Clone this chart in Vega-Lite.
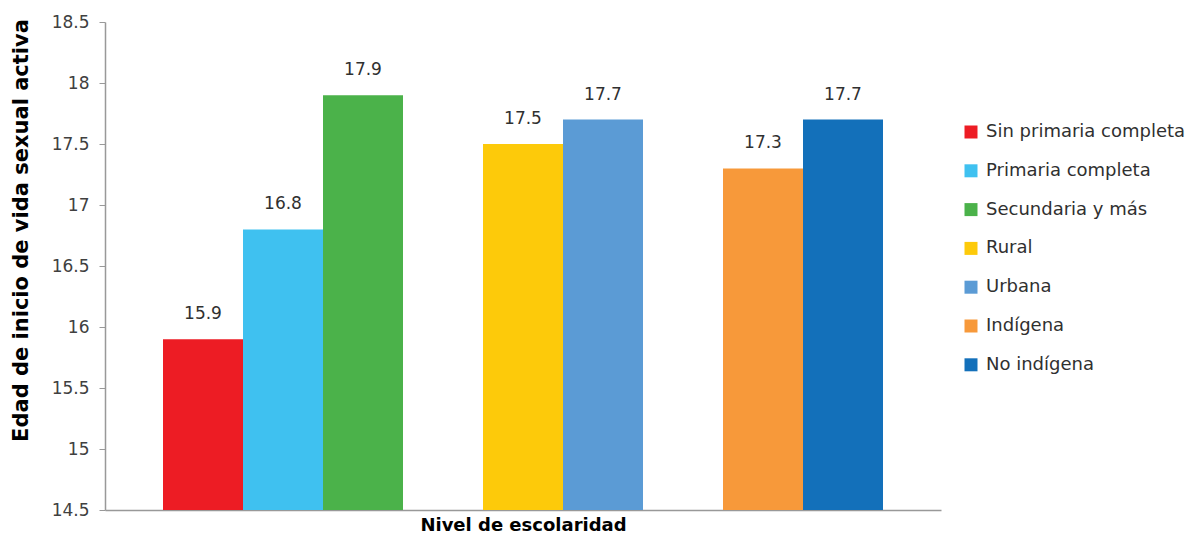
{
  "$schema": "https://vega.github.io/schema/vega-lite/v6.json",
  "width": 836,
  "height": 488,
  "autosize": {"type": "none"},
  "padding": {"left": 105, "top": 22, "right": 263, "bottom": 28},
  "background": "white",
  "config": {
    "view": {"stroke": null},
    "font": "DejaVu Sans"
  },
  "data": {
    "values": [
      {"categoria": "Sin primaria completa", "edad": 15.9},
      {"categoria": "Primaria completa", "edad": 16.8},
      {"categoria": "Secundaria y más", "edad": 17.9},
      {"categoria": "Rural", "edad": 17.5},
      {"categoria": "Urbana", "edad": 17.7},
      {"categoria": "Indígena", "edad": 17.3},
      {"categoria": "No indígena", "edad": 17.7}
    ]
  },
  "encoding": {
    "x": {
      "field": "categoria",
      "type": "nominal",
      "scale": {
        "domain": ["Sin primaria completa", "Primaria completa", "Secundaria y más", "_g1", "Rural", "Urbana", "_g2", "Indígena", "No indígena"],
        "paddingInner": 0,
        "paddingOuter": 0.725
      },
      "axis": {
        "title": "Nivel de escolaridad",
        "titleFontSize": 18,
        "titleFontWeight": "bold",
        "titleColor": "#000000",
        "titlePadding": 6,
        "labels": false,
        "ticks": false,
        "domainColor": "#999999",
        "domainWidth": 1.5
      }
    },
    "y": {
      "field": "edad",
      "type": "quantitative",
      "scale": {"domain": [14.5, 18.5], "zero": false, "nice": false},
      "axis": {
        "title": "Edad de inicio de vida sexual activa",
        "titleFontSize": 21,
        "titleFontWeight": "bold",
        "titleColor": "#000000",
        "titlePadding": 20,
        "titleY": 208,
        "values": [14.5, 15, 15.5, 16, 16.5, 17, 17.5, 18, 18.5],
        "format": ".1~f",
        "labelFontSize": 17,
        "labelColor": "#404040",
        "labelPadding": 10,
        "tickSize": 6,
        "tickColor": "#999999",
        "domainColor": "#999999",
        "domainWidth": 1.5,
        "grid": false
      }
    }
  },
  "layer": [
    {
      "mark": {"type": "bar"},
      "encoding": {
        "y2": {"datum": 14.5},
        "color": {
          "field": "categoria",
          "type": "nominal",
          "scale": {
            "domain": ["Sin primaria completa", "Primaria completa", "Secundaria y más", "Rural", "Urbana", "Indígena", "No indígena"],
            "range": ["#ED1C24", "#3FC1F0", "#4BB24A", "#FDCA0A", "#5B9BD5", "#F7993A", "#1370BA"]
          },
          "legend": {
            "title": null,
            "orient": "none",
            "legendX": 857,
            "legendY": 101,
            "symbolType": "square",
            "symbolSize": 169,
            "symbolStrokeWidth": 0,
            "labelFontSize": 18,
            "labelColor": "#303030",
            "labelOffset": 6,
            "rowPadding": 20.8,
            "labelLimit": 400
          }
        }
      }
    },
    {
      "mark": {"type": "text", "baseline": "bottom", "dy": -16, "fontSize": 17, "color": "#303030"},
      "encoding": {
        "text": {"field": "edad", "type": "quantitative", "format": ".1f"}
      }
    }
  ]
}
